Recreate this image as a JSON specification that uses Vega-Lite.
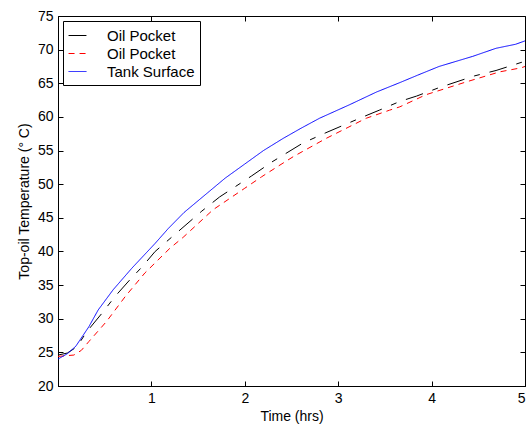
{
  "$schema": "https://vega.github.io/schema/vega-lite/v6.json",
  "width": 467,
  "height": 370,
  "autosize": {"type": "none"},
  "padding": {"left": 58, "top": 16, "right": 6, "bottom": 38},
  "background": "white",
  "config": {
    "font": "Liberation Sans",
    "view": {"stroke": "black", "strokeWidth": 1},
    "axis": {
      "domainColor": "black", "tickColor": "black", "labelColor": "black", "titleColor": "black",
      "labelFont": "Liberation Sans", "titleFont": "Liberation Sans",
      "labelFontSize": 14, "titleFontSize": 14, "titleFontWeight": "normal",
      "grid": false, "tickSize": -5, "labelPadding": 10
    },
    "legend": {"labelFont": "Liberation Sans", "labelFontSize": 15}
  },
  "data": {"values": [
    {"t": 0, "temp": 24.6, "s": "a"}, {"t": 0.1, "temp": 24.9, "s": "a"}, {"t": 0.2, "temp": 25.8, "s": "a"},
    {"t": 0.31, "temp": 28.1, "s": "a"}, {"t": 0.47, "temp": 30.8, "s": "a"}, {"t": 0.61, "temp": 33.3, "s": "a"},
    {"t": 0.77, "temp": 35.8, "s": "a"}, {"t": 0.9, "temp": 37.7, "s": "a"}, {"t": 1.04, "temp": 40.0, "s": "a"},
    {"t": 1.24, "temp": 42.4, "s": "a"}, {"t": 1.54, "temp": 46.0, "s": "a"}, {"t": 1.73, "temp": 48.1, "s": "a"},
    {"t": 2.07, "temp": 51.2, "s": "a"}, {"t": 2.29, "temp": 53.3, "s": "a"}, {"t": 2.62, "temp": 56.1, "s": "a"},
    {"t": 2.86, "temp": 57.6, "s": "a"}, {"t": 3.23, "temp": 59.8, "s": "a"}, {"t": 3.44, "temp": 61.0, "s": "a"},
    {"t": 3.66, "temp": 62.3, "s": "a"}, {"t": 3.84, "temp": 63.1, "s": "a"}, {"t": 4.07, "temp": 64.3, "s": "a"},
    {"t": 4.46, "temp": 66.1, "s": "a"}, {"t": 4.69, "temp": 66.9, "s": "a"}, {"t": 4.96, "temp": 68.1, "s": "a"},
    {"t": 5.0, "temp": 68.2, "s": "a"},
    {"t": 0, "temp": 24.4, "s": "b"}, {"t": 0.17, "temp": 24.6, "s": "b"}, {"t": 0.25, "temp": 25.3, "s": "b"},
    {"t": 0.33, "temp": 26.6, "s": "b"}, {"t": 0.52, "temp": 29.6, "s": "b"}, {"t": 0.72, "temp": 33.3, "s": "b"},
    {"t": 0.93, "temp": 36.8, "s": "b"}, {"t": 1.2, "temp": 40.5, "s": "b"}, {"t": 1.34, "temp": 42.1, "s": "b"},
    {"t": 1.66, "temp": 46.2, "s": "b"}, {"t": 2.0, "temp": 49.4, "s": "b"}, {"t": 2.18, "temp": 51.1, "s": "b"},
    {"t": 2.36, "temp": 52.7, "s": "b"}, {"t": 2.52, "temp": 54.1, "s": "b"}, {"t": 2.87, "temp": 56.8, "s": "b"},
    {"t": 3.3, "temp": 59.8, "s": "b"}, {"t": 3.55, "temp": 61.0, "s": "b"}, {"t": 3.66, "temp": 61.5, "s": "b"},
    {"t": 3.94, "temp": 63.3, "s": "b"}, {"t": 4.37, "temp": 65.2, "s": "b"}, {"t": 4.73, "temp": 66.7, "s": "b"},
    {"t": 4.96, "temp": 67.3, "s": "b"}, {"t": 5.0, "temp": 67.5, "s": "b"},
    {"t": 0, "temp": 24.0, "s": "c"}, {"t": 0.1, "temp": 24.8, "s": "c"}, {"t": 0.19, "temp": 25.9, "s": "c"},
    {"t": 0.33, "temp": 28.8, "s": "c"}, {"t": 0.43, "temp": 31.3, "s": "c"}, {"t": 0.59, "temp": 34.3, "s": "c"},
    {"t": 0.79, "temp": 37.5, "s": "c"}, {"t": 1.04, "temp": 41.2, "s": "c"}, {"t": 1.18, "temp": 43.4, "s": "c"},
    {"t": 1.35, "temp": 45.8, "s": "c"}, {"t": 1.6, "temp": 48.7, "s": "c"}, {"t": 1.79, "temp": 50.9, "s": "c"},
    {"t": 2.0, "temp": 53.0, "s": "c"}, {"t": 2.2, "temp": 55.0, "s": "c"}, {"t": 2.41, "temp": 56.8, "s": "c"},
    {"t": 2.6, "temp": 58.3, "s": "c"}, {"t": 2.8, "temp": 59.8, "s": "c"}, {"t": 3.12, "temp": 61.8, "s": "c"},
    {"t": 3.41, "temp": 63.7, "s": "c"}, {"t": 3.66, "temp": 65.1, "s": "c"}, {"t": 3.85, "temp": 66.2, "s": "c"},
    {"t": 4.08, "temp": 67.5, "s": "c"}, {"t": 4.44, "temp": 69.0, "s": "c"}, {"t": 4.69, "temp": 70.2, "s": "c"},
    {"t": 4.9, "temp": 70.8, "s": "c"}, {"t": 5.0, "temp": 71.3, "s": "c"}
  ]},
  "layer": [
    {
      "mark": {"type": "line", "strokeWidth": 1, "clip": true},
      "encoding": {
        "x": {"field": "t", "type": "quantitative", "scale": {"domain": [0, 5], "nice": false, "zero": false},
              "axis": {"orient": "bottom", "title": "Time (hrs)", "values": [1, 2, 3, 4, 5], "titlePadding": 4}},
        "y": {"field": "temp", "type": "quantitative", "scale": {"domain": [20, 75], "nice": false, "zero": false},
              "axis": {"orient": "left", "title": "Top-oil Temperature (° C)", "values": [20, 25, 30, 35, 40, 45, 50, 55, 60, 65, 70, 75], "titlePadding": 6}},
        "color": {"field": "s", "type": "nominal",
                  "scale": {"domain": ["a", "b", "c"], "range": ["black", "red", "blue"]},
                  "legend": {"title": null, "orient": "top-left", "offset": 5, "strokeColor": "black", "fillColor": "white",
                             "padding": 5, "symbolType": "stroke", "symbolSize": 320, "symbolStrokeWidth": 1, "rowPadding": 0,
                             "labelOffset": 20,
                             "labelExpr": "datum.value == 'c' ? 'Tank Surface' : 'Oil Pocket'"}},
        "strokeDash": {"field": "s", "type": "nominal",
                       "scale": {"domain": ["a", "b", "c"], "range": [[18, 10, 6, 10], [6, 5], [1, 0]]},
                       "legend": {"title": null, "orient": "top-left", "offset": 5, "strokeColor": "black", "fillColor": "white",
                                  "padding": 5, "symbolType": "stroke", "symbolSize": 320, "symbolStrokeWidth": 1, "rowPadding": 0,
                                  "labelOffset": 20,
                                  "labelExpr": "datum.value == 'c' ? 'Tank Surface' : 'Oil Pocket'"}}
      }
    },
    {
      "mark": {"type": "line", "opacity": 0},
      "encoding": {
        "x": {"field": "t", "type": "quantitative", "axis": {"orient": "top", "title": null, "labels": false, "domain": false, "values": [1, 2, 3, 4, 5]}},
        "y": {"field": "temp", "type": "quantitative", "axis": {"orient": "right", "title": null, "labels": false, "domain": false, "values": [20, 25, 30, 35, 40, 45, 50, 55, 60, 65, 70, 75]}},
        "detail": {"field": "s"}
      }
    }
  ],
  "resolve": {"axis": {"x": "independent", "y": "independent"}}
}
